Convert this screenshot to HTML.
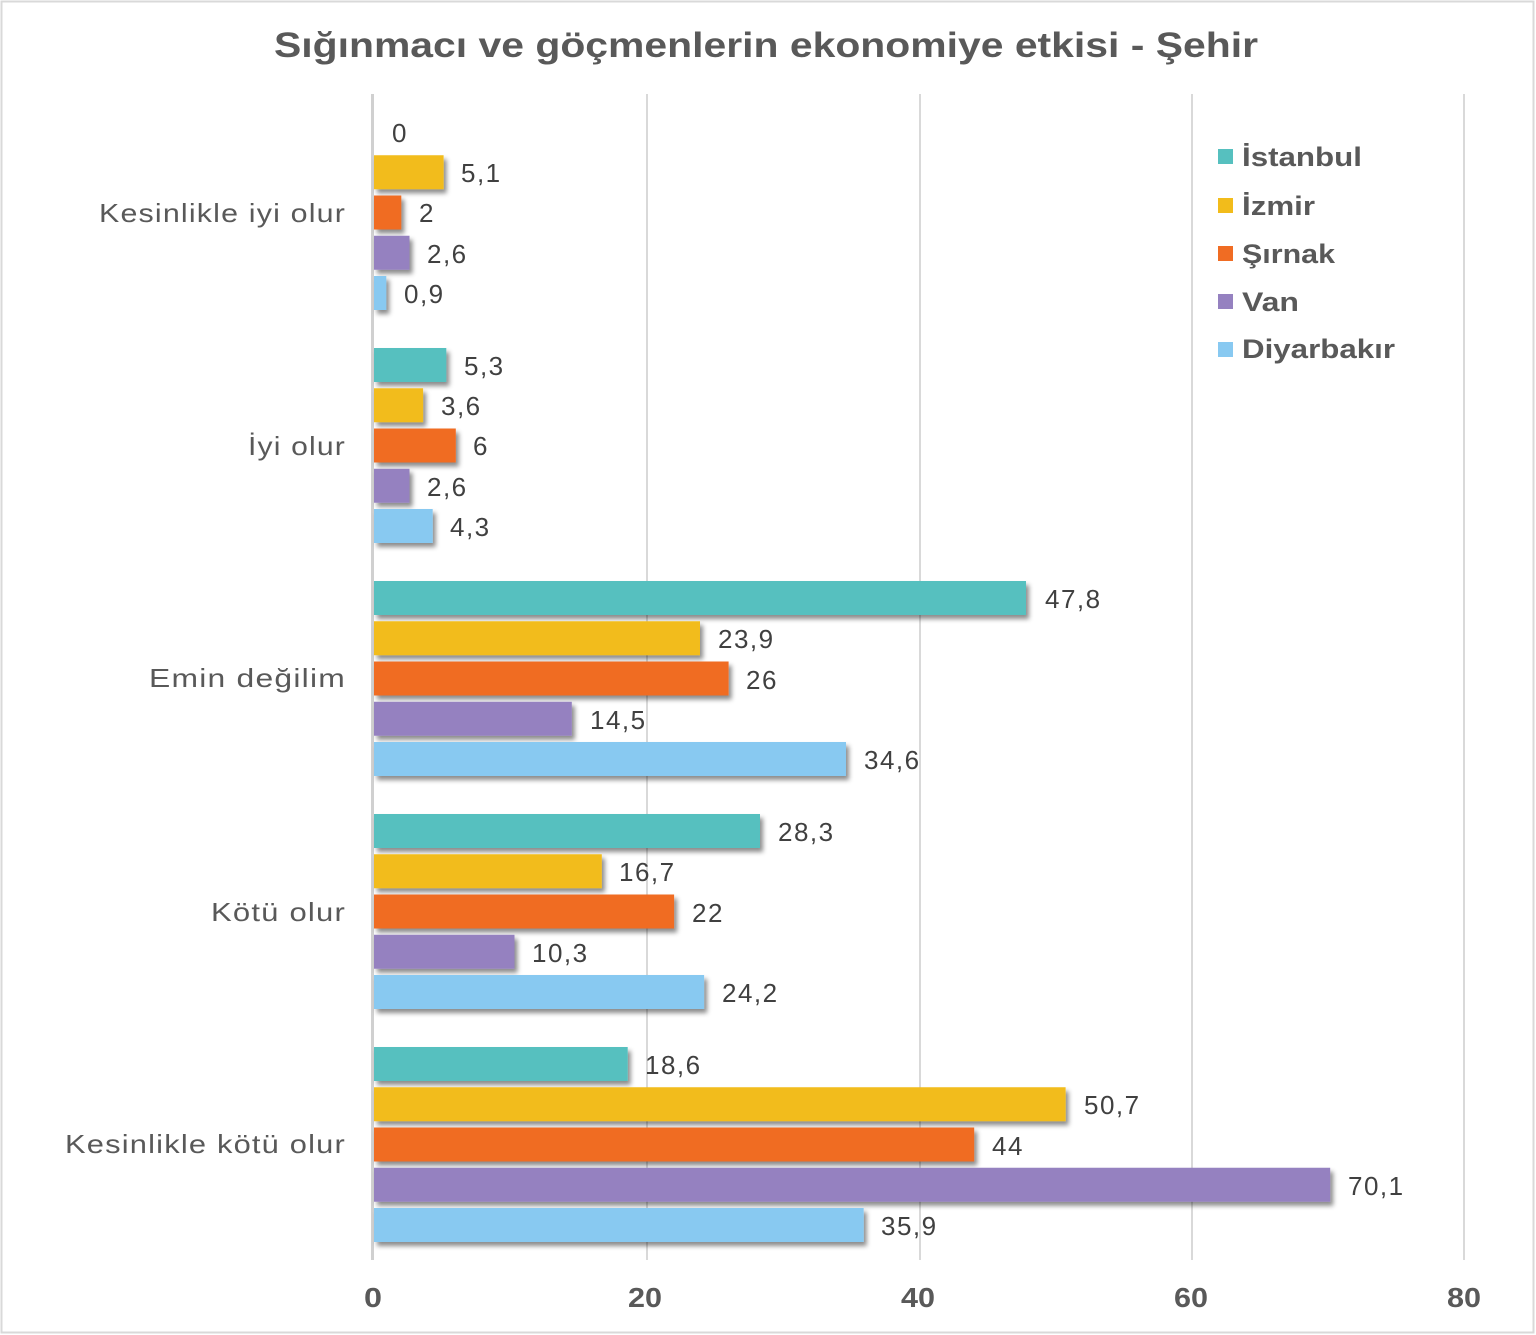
<!DOCTYPE html>
<html>
<head>
<meta charset="utf-8">
<style>
  html, body { margin: 0; padding: 0; background: #ffffff; }
  svg { display: block; }
  text { font-family: "Liberation Sans", "DejaVu Sans", sans-serif; }
  .cat { font-size: 26px; fill: #595959; letter-spacing: 1px; }
  .val { font-size: 26px; fill: #404040; letter-spacing: 1.5px; }
  .tick { font-size: 28px; fill: #595959; font-weight: bold; }
  .leg { font-size: 27px; fill: #595959; font-weight: bold; }
  .title { font-size: 35px; fill: #595959; font-weight: bold; }
</style>
</head>
<body>
<svg width="1536" height="1335" viewBox="0 0 1536 1335" xmlns="http://www.w3.org/2000/svg">
  <defs>
    <filter id="sh" x="-10%" y="-30%" width="130%" height="180%">
      <feDropShadow dx="3" dy="4" stdDeviation="2.5" flood-color="#000" flood-opacity="0.45"/>
    </filter>
  </defs>
  <rect x="0" y="0" width="1536" height="1335" fill="#ffffff"/>
  <rect x="1.5" y="1.5" width="1532" height="1331" fill="none" stroke="#d9d9d9" stroke-width="2"/>

  <!-- Title -->
  <text class="title" x="766" y="57" text-anchor="middle" textLength="984" lengthAdjust="spacingAndGlyphs">Sığınmacı ve göçmenlerin ekonomiye etkisi - Şehir</text>

  <!-- Gridlines -->
  <g stroke="#d9d9d9" stroke-width="2">
    <line x1="647" y1="94" x2="647" y2="1260"/>
    <line x1="920" y1="94" x2="920" y2="1260"/>
    <line x1="1192" y1="94" x2="1192" y2="1260"/>
    <line x1="1464" y1="94" x2="1464" y2="1260"/>
  </g>
  <line x1="372.5" y1="94" x2="372.5" y2="1260" stroke="#d0d0d0" stroke-width="3"/>

  <!-- Bars -->
  <g filter="url(#sh)">
    <rect x="374" y="155.25" width="69.6" height="34" fill="#f2bc1b"/>
    <rect x="374" y="195.5" width="27.3" height="34" fill="#f06c23"/>
    <rect x="374" y="235.75" width="35.5" height="34" fill="#9581c0"/>
    <rect x="374" y="276" width="12.3" height="34" fill="#88c9f1"/>

    <rect x="374" y="348" width="72.3" height="34" fill="#56c0bf"/>
    <rect x="374" y="388.25" width="49.1" height="34" fill="#f2bc1b"/>
    <rect x="374" y="428.5" width="81.8" height="34" fill="#f06c23"/>
    <rect x="374" y="468.75" width="35.5" height="34" fill="#9581c0"/>
    <rect x="374" y="509" width="58.7" height="34" fill="#88c9f1"/>

    <rect x="374" y="581" width="652.0" height="34" fill="#56c0bf"/>
    <rect x="374" y="621.25" width="326.0" height="34" fill="#f2bc1b"/>
    <rect x="374" y="661.5" width="354.6" height="34" fill="#f06c23"/>
    <rect x="374" y="701.75" width="197.8" height="34" fill="#9581c0"/>
    <rect x="374" y="742" width="472.0" height="34" fill="#88c9f1"/>

    <rect x="374" y="814" width="386.0" height="34" fill="#56c0bf"/>
    <rect x="374" y="854.25" width="227.8" height="34" fill="#f2bc1b"/>
    <rect x="374" y="894.5" width="300.1" height="34" fill="#f06c23"/>
    <rect x="374" y="934.75" width="140.5" height="34" fill="#9581c0"/>
    <rect x="374" y="975" width="330.1" height="34" fill="#88c9f1"/>

    <rect x="374" y="1047" width="253.7" height="34" fill="#56c0bf"/>
    <rect x="374" y="1087.25" width="691.6" height="34" fill="#f2bc1b"/>
    <rect x="374" y="1127.5" width="600.2" height="34" fill="#f06c23"/>
    <rect x="374" y="1167.75" width="956.2" height="34" fill="#9581c0"/>
    <rect x="374" y="1208" width="489.7" height="34" fill="#88c9f1"/>
  </g>

  <!-- Value labels -->
  <g class="val">
    <text x="392" y="142">0</text>
    <text x="461" y="182">5,1</text>
    <text x="419" y="222">2</text>
    <text x="427" y="263">2,6</text>
    <text x="404" y="303">0,9</text>

    <text x="464" y="375">5,3</text>
    <text x="441" y="415">3,6</text>
    <text x="473" y="455">6</text>
    <text x="427" y="496">2,6</text>
    <text x="450" y="536">4,3</text>

    <text x="1045" y="608">47,8</text>
    <text x="718" y="648">23,9</text>
    <text x="746" y="689">26</text>
    <text x="590" y="729">14,5</text>
    <text x="864" y="769">34,6</text>

    <text x="778" y="841">28,3</text>
    <text x="619" y="881">16,7</text>
    <text x="692" y="922">22</text>
    <text x="532" y="962">10,3</text>
    <text x="722" y="1002">24,2</text>

    <text x="645" y="1074">18,6</text>
    <text x="1084" y="1114">50,7</text>
    <text x="992" y="1155">44</text>
    <text x="1348" y="1195">70,1</text>
    <text x="881" y="1235">35,9</text>
  </g>

  <!-- Category labels -->
  <g class="cat" text-anchor="end">
    <text x="346" y="222" textLength="247" lengthAdjust="spacingAndGlyphs">Kesinlikle iyi olur</text>
    <text x="346" y="455" textLength="98" lengthAdjust="spacingAndGlyphs">İyi olur</text>
    <text x="346" y="687" textLength="197" lengthAdjust="spacingAndGlyphs">Emin değilim</text>
    <text x="346" y="921" textLength="135" lengthAdjust="spacingAndGlyphs">Kötü olur</text>
    <text x="346" y="1153" textLength="281" lengthAdjust="spacingAndGlyphs">Kesinlikle kötü olur</text>
  </g>

  <!-- Axis tick labels -->
  <g class="tick">
    <text x="364" y="1307" textLength="18" lengthAdjust="spacingAndGlyphs">0</text>
    <text x="628" y="1307" textLength="34" lengthAdjust="spacingAndGlyphs">20</text>
    <text x="901" y="1307" textLength="34" lengthAdjust="spacingAndGlyphs">40</text>
    <text x="1174" y="1307" textLength="34" lengthAdjust="spacingAndGlyphs">60</text>
    <text x="1447" y="1307" textLength="34" lengthAdjust="spacingAndGlyphs">80</text>
  </g>

  <!-- Legend -->
  <rect x="1218" y="149" width="15" height="15" fill="#56c0bf"/>
  <rect x="1218" y="198" width="15" height="15" fill="#f2bc1b"/>
  <rect x="1218" y="246" width="15" height="15" fill="#f06c23"/>
  <rect x="1218" y="294" width="15" height="15" fill="#9581c0"/>
  <rect x="1218" y="342" width="15" height="15" fill="#88c9f1"/>
  <g class="leg">
    <text x="1242" y="166" textLength="120" lengthAdjust="spacingAndGlyphs">İstanbul</text>
    <text x="1242" y="215" textLength="73" lengthAdjust="spacingAndGlyphs">İzmir</text>
    <text x="1242" y="263" textLength="93" lengthAdjust="spacingAndGlyphs">Şırnak</text>
    <text x="1242" y="311" textLength="57" lengthAdjust="spacingAndGlyphs">Van</text>
    <text x="1242" y="358" textLength="153" lengthAdjust="spacingAndGlyphs">Diyarbakır</text>
  </g>
</svg>
</body>
</html>
